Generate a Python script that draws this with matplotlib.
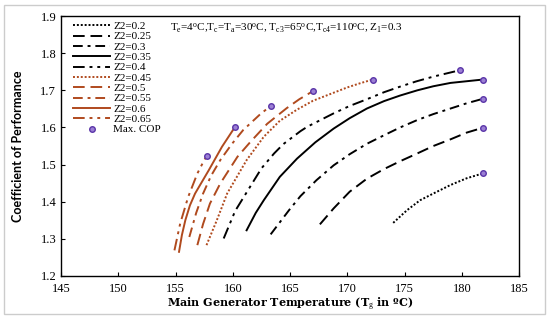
import matplotlib.pyplot as plt
from matplotlib.patches import Rectangle

# Z2 values and curves (T_g in C, COP)
z2 = ['0.2', '0.25', '0.3', '0.35', '0.4', '0.45', '0.5', '0.55', '0.6', '0.65']

tg_02 = [174.0, 175.2, 176.35, 177.5, 179.0, 180.4, 181.8]
cop_02 = [1.343, 1.377, 1.404, 1.422, 1.445, 1.463, 1.476]

tg_025 = [167.6, 168.8, 170.2, 171.7, 173.2, 174.6, 176.1, 177.5, 179.0, 180.4, 181.8]
cop_025 = [1.339, 1.382, 1.427, 1.462, 1.488, 1.509, 1.530, 1.550, 1.568, 1.586, 1.599]

tg_03 = [163.3, 164.9, 165.9, 167.3, 168.8, 170.2, 171.7, 173.2, 174.6, 176.1, 177.5, 179.0, 180.4, 181.8]
cop_03 = [1.312, 1.377, 1.415, 1.458, 1.498, 1.528, 1.556, 1.579, 1.600, 1.620, 1.636, 1.651, 1.665, 1.677]

tg_035 = [161.2, 162.0, 162.7, 164.1, 165.6, 167.2, 168.8, 170.2, 171.7, 173.2, 174.6, 176.1, 177.5, 179.0, 181.8]
cop_035 = [1.323, 1.370, 1.404, 1.467, 1.516, 1.560, 1.597, 1.625, 1.651, 1.671, 1.686, 1.700, 1.711, 1.720, 1.729]

tg_04 = [159.2, 160.2, 161.5, 162.5, 163.6, 164.4, 165.9, 166.5, 168.8, 170.2, 171.7, 173.2, 174.6, 176.0, 177.5, 179.8]
cop_04 = [1.301, 1.375, 1.440, 1.490, 1.530, 1.555, 1.590, 1.602, 1.638, 1.658, 1.676, 1.695, 1.710, 1.724, 1.737, 1.754]

tg_045 = [157.7, 158.6, 159.5, 161.2, 162.7, 164.1, 165.6, 167.0, 168.5, 170.0, 171.1, 172.2]
cop_045 = [1.283, 1.350, 1.422, 1.512, 1.575, 1.618, 1.648, 1.672, 1.690, 1.708, 1.719, 1.729]

tg_05 = [156.9, 157.4, 158.0, 158.9, 160.4, 161.5, 163.0, 164.7, 165.8, 167.0]
cop_05 = [1.283, 1.340, 1.395, 1.449, 1.521, 1.560, 1.610, 1.652, 1.676, 1.698]

tg_055 = [156.2, 156.8, 157.4, 158.1, 158.9, 159.9, 160.9, 162.4, 163.3]
cop_055 = [1.305, 1.370, 1.422, 1.470, 1.512, 1.555, 1.593, 1.636, 1.658]

tg_06 = [155.3, 155.55, 155.85, 156.25, 156.7, 157.9, 159.05, 160.2]
cop_06 = [1.265, 1.310, 1.350, 1.390, 1.422, 1.485, 1.548, 1.602]

tg_065 = [154.9, 155.15, 155.4, 156.1, 156.9, 157.3, 157.7]
cop_065 = [1.269, 1.305, 1.341, 1.413, 1.476, 1.500, 1.523]

tg_all = [tg_02, tg_025, tg_03, tg_035, tg_04, tg_045, tg_05, tg_055, tg_06, tg_065]
cop_all = [cop_02, cop_025, cop_03, cop_035, cop_04, cop_045, cop_05, cop_055, cop_06, cop_065]

# max COP points (end of each curve)
max_tg = [181.8, 181.8, 181.8, 181.8, 179.8, 172.2, 167.0, 163.3, 160.2, 157.7]
max_cop = [1.476, 1.599, 1.677, 1.729, 1.754, 1.729, 1.698, 1.658, 1.602, 1.523]

black = '#000000'
brown = '#B04A1E'
colors = [black] * 5 + [brown] * 5
styles = [(0, (1, 1)),
          (0, (6, 3)),
          (0, (5, 2.5, 1.5, 2.5)),
          '-',
          (0, (6, 2.5, 1.5, 2.5, 1.5, 2.5)),
          (0, (1, 1)),
          (0, (6, 3)),
          (0, (5, 2.5, 1.5, 2.5)),
          '-',
          (0, (6, 2.5, 1.5, 2.5, 1.5, 2.5))]

plt.rcParams['font.family'] = ['Liberation Serif', 'DejaVu Serif']
plt.rcParams['mathtext.fontset'] = 'custom'
plt.rcParams['mathtext.rm'] = 'Liberation Serif'
plt.rcParams['mathtext.it'] = 'Liberation Serif'

fig = plt.figure(figsize=(5.5, 3.22), dpi=100)
ax = fig.add_axes([0.111, 0.143, 0.833, 0.807])

# light grey frame round the whole figure
fig.patches.append(Rectangle((0.008, 0.025), 0.983, 0.96, transform=fig.transFigure,
                             fill=False, edgecolor='#cccccc', linewidth=1.0))

for i in range(len(z2)):
    ax.plot(tg_all[i], cop_all[i], color=colors[i], linestyle=styles[i],
            linewidth=1.4, label=f'Z2={z2[i]}')

ax.plot(max_tg, max_cop, linestyle='none', marker='o', markersize=4,
        markerfacecolor='#9b7fd4', markeredgecolor='#5a35a8', markeredgewidth=1.0,
        label='Max. COP')

ax.set_xlim(145, 185)
ax.set_ylim(1.2, 1.9)
ax.set_xticks(range(145, 186, 5))
ax.set_yticks([1.2, 1.3, 1.4, 1.5, 1.6, 1.7, 1.8, 1.9])
ax.tick_params(axis='both', direction='in', length=3, labelsize=9)
ax.tick_params(axis='x', pad=5)
for s in ax.spines.values():
    s.set_linewidth(1.0)

ax.set_xlabel('Main Generator Temperature (T$_g$ in ºC)', fontsize=8,
              fontweight='bold', family='DejaVu Serif', labelpad=1)
ax.set_ylabel('Coefficient of Performance', fontsize=9, fontweight='bold',
              family='Lato', labelpad=12)

ax.text(0.238, 0.978, 'T$_e$=4$^o$C,T$_c$=T$_a$=30$^o$C, T$_{c3}$=65$^o$C,T$_{c4}$=110$^o$C, Z$_1$=0.3',
        transform=ax.transAxes, fontsize=8, va='top', ha='left')

ax.legend(loc='upper left', bbox_to_anchor=(0.01, 1.01), fontsize=8, frameon=False,
          handlelength=3.3, labelspacing=0.05, handletextpad=0.3, borderaxespad=0.3)

fig.savefig('out.png', dpi=100)
